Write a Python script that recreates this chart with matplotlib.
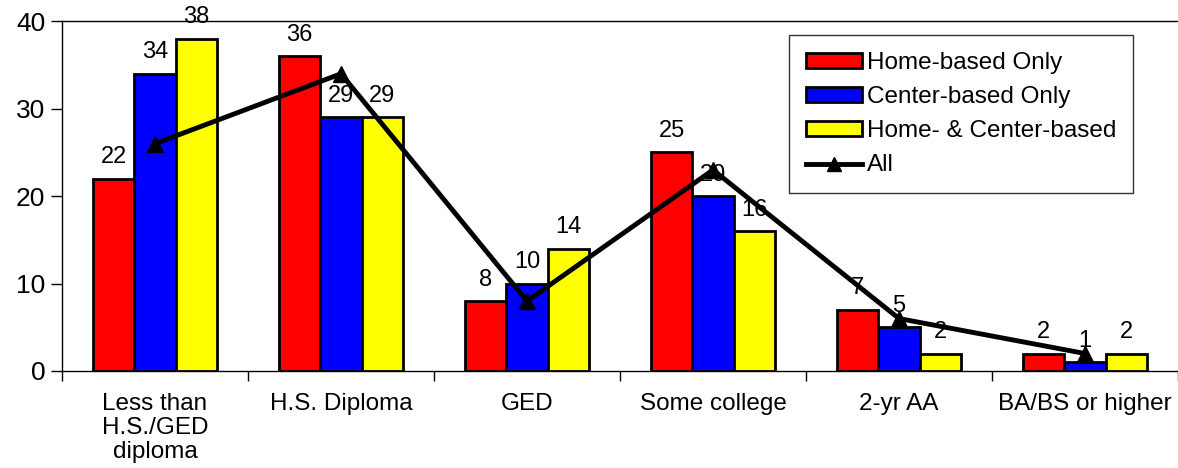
import matplotlib.pyplot as plt
from matplotlib.patches import Patch
from matplotlib.lines import Line2D
import numpy as np

plt.rcParams['font.family'] = ['Liberation Sans', 'DejaVu Sans']

# data
categories = ['Less than\nH.S./GED\ndiploma', 'H.S. Diploma', 'GED',
              'Some college', '2-yr AA', 'BA/BS or higher']
home_only = [22, 36, 8, 25, 7, 2]
center_only = [34, 29, 10, 20, 5, 1]
home_center = [38, 29, 14, 16, 2, 2]
all_types = [26, 34, 8, 23, 6, 2]

series = [('Home-based Only', home_only, '#ff0000'),
          ('Center-based Only', center_only, '#0000ff'),
          ('Home- & Center-based', home_center, '#ffff00')]

fig = plt.figure(figsize=(11.78, 4.68), dpi=100)
ax = fig.add_axes([62 / 1178, 1 - 371 / 468, 1 - 62 / 1178, (371 - 21.3) / 468])

x = np.arange(len(categories))
w = 0.223
for i, (name, vals, col) in enumerate(series):
    pos = x + (i - 1) * w
    ax.bar(pos, vals, w, color=col, edgecolor='black', linewidth=2, zorder=2)
    for px, v in zip(pos, vals):
        ax.text(px, v + 1.2, str(v), ha='center', va='bottom', fontsize=17, zorder=3)

ax.plot(x, all_types, color='black', linewidth=3.5, marker='^', markersize=12, zorder=4)

ax.set_xlim(-0.5, len(categories) - 0.5)
ax.set_ylim(0, 40)
ax.set_yticks([0, 10, 20, 30, 40])
ax.tick_params(axis='y', labelsize=19, length=8, width=1, pad=4)
ax.set_xticks(x)
ax.set_xticklabels(categories, fontsize=17.5, linespacing=1.12)
ax.tick_params(axis='x', length=0, pad=16)
ax.set_xticks(np.arange(len(categories) + 1) - 0.5, minor=True)
ax.tick_params(axis='x', which='minor', length=7, width=1)
ax.spines['right'].set_visible(False)
for s in ['left', 'top', 'bottom']:
    ax.spines[s].set_linewidth(1)

handles = [Patch(facecolor=c, edgecolor='black', linewidth=2, label=n) for n, _, c in series]
handles.append(Line2D([], [], color='black', linewidth=3.5, marker='^', markersize=10, label='All'))
leg = ax.legend(handles=handles, loc='upper left', bbox_to_anchor=((789 - 62) / 1116, (371 - 35) / 349.7),
                fontsize=17.5, frameon=True, fancybox=False, edgecolor='black',
                handlelength=2.3, handleheight=0.55, handletextpad=0.2, labelspacing=0.5,
                borderpad=0.7, borderaxespad=0)
leg.get_frame().set_linewidth(1)

fig.savefig('out.png', dpi=100)
